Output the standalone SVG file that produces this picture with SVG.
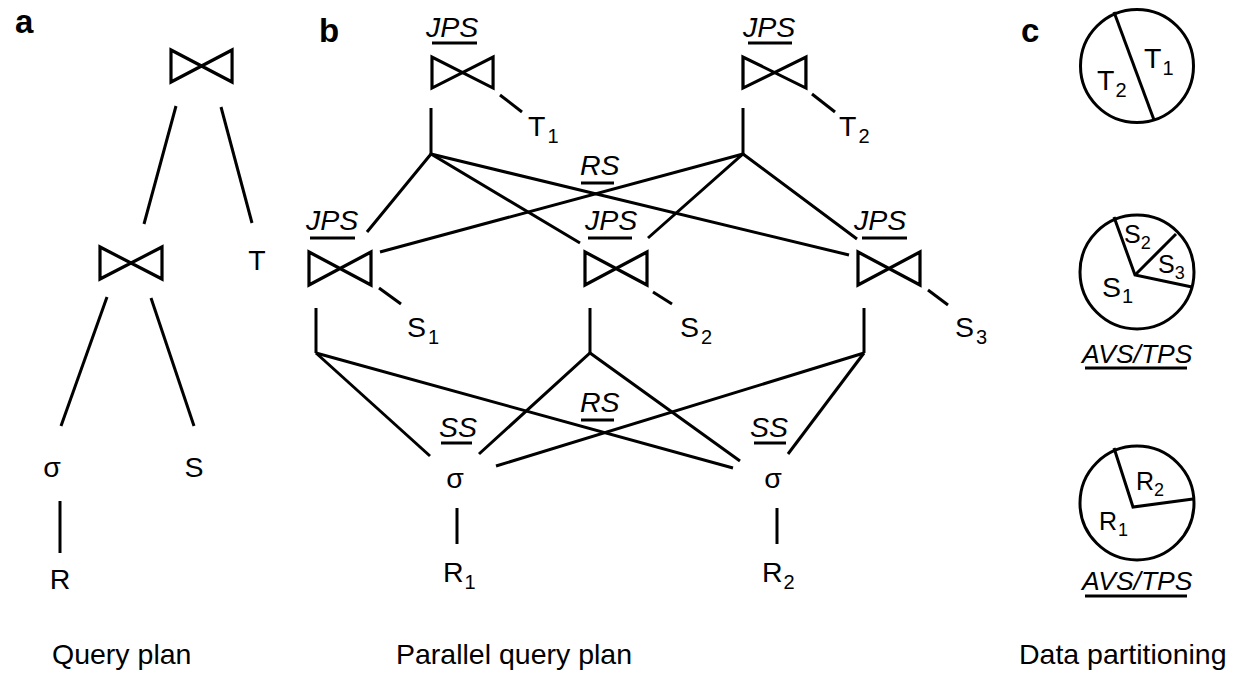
<svg xmlns="http://www.w3.org/2000/svg" width="1237" height="673" viewBox="0 0 1237 673">
<defs>
<style>
text{font-family:"Liberation Sans",Arial,sans-serif;font-size:28.5px;fill:#000}
.lbl{font-weight:bold;font-size:33px}
.it{font-style:italic}
.sub{font-size:20px}
.ln{stroke:#000;stroke-width:3;fill:none;stroke-linecap:butt}
.ul{stroke:#000;stroke-width:3}
.join{stroke:#000;stroke-width:3.2;fill:none;stroke-linejoin:miter}
.circ{stroke:#000;stroke-width:3;fill:#fff}
</style>
<path id="bowtie" d="M0 0 V32 L62 0 V32 Z"/>
</defs>
<rect width="1237" height="673" fill="#fff"/>

<!-- panel labels -->
<text class="lbl" x="15" y="33">a</text>
<text class="lbl" x="319" y="42">b</text>
<text class="lbl" x="1021" y="42">c</text>

<!-- connectors -->
<g id="connectors" class="ln">
<line x1="176" y1="106" x2="144" y2="224"/>
<line x1="221" y1="107" x2="252" y2="223"/>
<line x1="107" y1="297" x2="61" y2="426"/>
<line x1="151" y1="298" x2="194" y2="426"/>
<line x1="60" y1="501" x2="60" y2="553"/>

<line x1="500" y1="95" x2="522" y2="112"/>
<line x1="431" y1="108" x2="431" y2="154"/>
<polyline points="367,232 431,154 580,243"/>
<line x1="431" y1="154" x2="849" y2="255"/>
<line x1="812" y1="94" x2="835" y2="112"/>
<line x1="743" y1="108" x2="743" y2="154"/>
<polyline points="648,238 743,154 857,239"/>
<line x1="743" y1="154" x2="380" y2="252"/>
<line x1="379" y1="288" x2="401" y2="304"/>
<line x1="653" y1="292" x2="672" y2="304"/>
<line x1="928" y1="290" x2="948" y2="305"/>
<line x1="316" y1="308" x2="316" y2="353"/>
<line x1="590" y1="308" x2="590" y2="353"/>
<line x1="864" y1="308" x2="864" y2="353"/>
<line x1="316" y1="353" x2="430" y2="456"/>
<line x1="316" y1="353" x2="733" y2="468"/>
<polyline points="479,454 590,353 740,461"/>
<line x1="864" y1="353" x2="496" y2="466"/>
<line x1="864" y1="353" x2="788" y2="454"/>
<line x1="457" y1="508" x2="457" y2="544"/>
<line x1="777" y1="508" x2="777" y2="544"/>
</g>

<!-- panel a nodes -->
<g id="a-join-top"><use href="#bowtie" class="join" transform="translate(171,50) scale(0.985,1)"/></g>
<g id="a-join-low"><use href="#bowtie" class="join" transform="translate(100,247)"/></g>
<g id="a-T"><text x="257" y="270" text-anchor="middle">T</text></g>
<g id="a-sigma"><text x="52" y="477" text-anchor="middle">σ</text></g>
<g id="a-S"><text x="194" y="477" text-anchor="middle">S</text></g>
<g id="a-R"><text x="60" y="589" text-anchor="middle">R</text></g>
<g id="a-caption"><text x="52" y="664">Query plan</text></g>

<!-- panel b nodes -->
<g id="b-join-t1">
<text class="it" x="426" y="37">JPS</text><line class="ul" x1="432" y1="43" x2="477" y2="43"/>
<use href="#bowtie" class="join" transform="translate(432,57) scale(0.985,0.97)"/>
</g>
<g id="b-T1"><text x="528" y="136">T<tspan class="sub" dx="2" dy="7">1</tspan></text></g>
<g id="b-join-t2">
<text class="it" x="743" y="37">JPS</text><line class="ul" x1="748" y1="43" x2="792" y2="43"/>
<use href="#bowtie" class="join" transform="translate(743,57) scale(1.015,0.97)"/>
</g>
<g id="b-T2"><text x="839" y="136">T<tspan class="sub" dx="2" dy="7">2</tspan></text></g>
<g id="b-rs-top"><text class="it" x="580" y="175">RS</text><line class="ul" x1="581" y1="183" x2="614" y2="183"/></g>

<g id="b-join-s1">
<text class="it" x="306" y="230">JPS</text><line class="ul" x1="310" y1="238" x2="355" y2="238"/>
<use href="#bowtie" class="join" transform="translate(309,252) scale(1,1.03)"/>
</g>
<g id="b-S1"><text x="407" y="337">S<tspan class="sub" dx="2" dy="7">1</tspan></text></g>
<g id="b-join-s2">
<text class="it" x="585" y="230">JPS</text><line class="ul" x1="588" y1="238" x2="632" y2="238"/>
<use href="#bowtie" class="join" transform="translate(585,252) scale(1,1.03)"/>
</g>
<g id="b-S2"><text x="680" y="337">S<tspan class="sub" dx="2" dy="7">2</tspan></text></g>
<g id="b-join-s3">
<text class="it" x="854" y="230">JPS</text><line class="ul" x1="862" y1="238" x2="907" y2="238"/>
<use href="#bowtie" class="join" transform="translate(858,252) scale(1,1.03)"/>
</g>
<g id="b-S3"><text x="955" y="337">S<tspan class="sub" dx="2" dy="7">3</tspan></text></g>

<g id="b-rs-bottom"><text class="it" x="580" y="412">RS</text><line class="ul" x1="581" y1="420" x2="614" y2="420"/></g>
<g id="b-sel1">
<text class="it" x="439" y="437">SS</text><line class="ul" x1="441" y1="443" x2="472" y2="443"/>
<text x="455" y="488" text-anchor="middle">σ</text>
</g>
<g id="b-R1"><text x="443" y="582">R<tspan class="sub" dx="1" dy="7">1</tspan></text></g>
<g id="b-sel2">
<text class="it" x="750" y="437">SS</text><line class="ul" x1="754" y1="443" x2="786" y2="443"/>
<text x="773" y="488" text-anchor="middle">σ</text>
</g>
<g id="b-R2"><text x="762" y="582">R<tspan class="sub" dx="1" dy="7">2</tspan></text></g>
<g id="b-caption"><text x="396" y="664">Parallel query plan</text></g>

<!-- panel c -->
<g id="c-T">
<circle class="circ" cx="1137" cy="66" r="56.5"/>
<line class="ln" x1="1114" y1="12" x2="1154" y2="120"/>
<text x="1144" y="68">T<tspan class="sub" dx="1" dy="7">1</tspan></text>
<text x="1097" y="90">T<tspan class="sub" dx="1" dy="7">2</tspan></text>
</g>
<g id="c-S">
<circle class="circ" cx="1137" cy="272" r="57"/>
<polyline class="ln" points="1114,217 1135,275 1192,287"/>
<line class="ln" x1="1135" y1="275" x2="1176" y2="234"/>
<text x="1102" y="297">S<tspan class="sub" dx="1" dy="6">1</tspan></text>
<text x="1124" y="243" style="font-size:25px">S<tspan class="sub" dx="0" dy="6" style="font-size:18px">2</tspan></text>
<text x="1158" y="273" style="font-size:25px">S<tspan class="sub" dx="0" dy="6" style="font-size:18px">3</tspan></text>
<text class="it" x="1082" y="363" style="font-size:26.5px">AVS/TPS</text>
<line class="ul" x1="1085" y1="368" x2="1187" y2="368"/>
</g>
<g id="c-R">
<circle class="circ" cx="1137" cy="503" r="57"/>
<polyline class="ln" points="1114,448 1133,507 1193,499"/>
<text x="1136" y="490" style="font-size:25px">R<tspan class="sub" dx="0" dy="6" style="font-size:18px">2</tspan></text>
<text x="1099" y="530" style="font-size:25px">R<tspan class="sub" dx="1" dy="6" style="font-size:18px">1</tspan></text>
<text class="it" x="1082" y="590" style="font-size:26.5px">AVS/TPS</text>
<line class="ul" x1="1085" y1="596" x2="1187" y2="596"/>
</g>
<g id="c-caption"><text x="1019" y="664">Data partitioning</text></g>
</svg>
